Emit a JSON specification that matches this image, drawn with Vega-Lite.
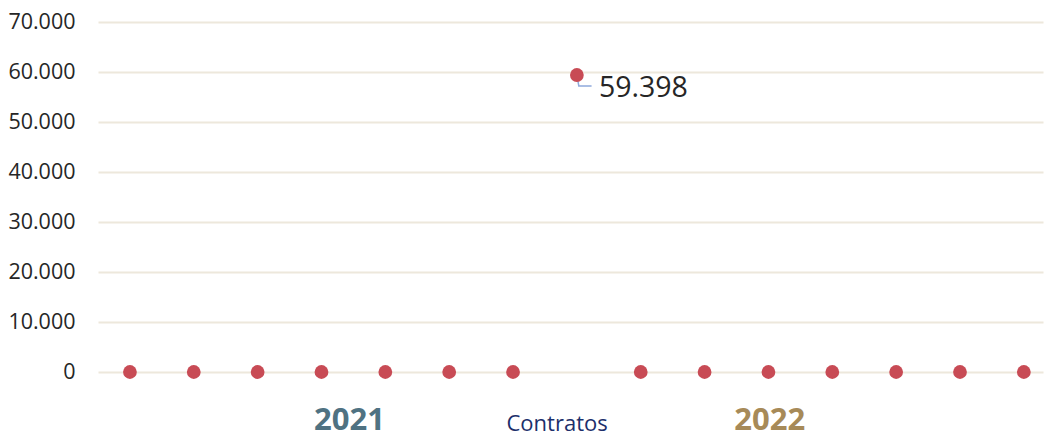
{
  "$schema": "https://vega.github.io/schema/vega-lite/v6.json",
  "autosize": "none",
  "width": 945,
  "height": 350,
  "padding": {"left": 98, "top": 22, "right": 2, "bottom": 67},
  "background": "white",
  "config": {"view": {"stroke": null}, "font": "Open Sans",
    "locale": {"number": {"decimal": ",", "thousands": ".", "grouping": [3], "currency": ["", " €"]}}},
  "datasets": {
    "pts": [
      {"i": 1, "contratos": 0}, {"i": 2, "contratos": 0}, {"i": 3, "contratos": 0},
      {"i": 4, "contratos": 0}, {"i": 5, "contratos": 0}, {"i": 6, "contratos": 0},
      {"i": 7, "contratos": 0}, {"i": 8, "contratos": 59398}, {"i": 9, "contratos": 0},
      {"i": 10, "contratos": 0}, {"i": 11, "contratos": 0}, {"i": 12, "contratos": 0},
      {"i": 13, "contratos": 0}, {"i": 14, "contratos": 0}, {"i": 15, "contratos": 0}
    ],
    "leader": [
      {"i": 8.0, "contratos": 59398, "o": 1},
      {"i": 8.03, "contratos": 57200, "o": 2},
      {"i": 8.23, "contratos": 57200, "o": 3}
    ],
    "labs": [
      {"i": 4.44, "contratos": -11500, "t": "2021", "k": "a"},
      {"i": 7.69, "contratos": -11800, "t": "Contratos", "k": "b"},
      {"i": 11.02, "contratos": -11500, "t": "2022", "k": "c"}
    ]
  },
  "encoding": {
    "x": {"field": "i", "type": "quantitative", "scale": {"domain": [0.5, 15.3], "nice": false, "zero": false}, "axis": null},
    "y": {"field": "contratos", "type": "quantitative", "scale": {"domain": [0, 70000], "nice": false},
      "axis": {"values": [0, 10000, 20000, 30000, 40000, 50000, 60000, 70000], "title": null, "domain": false, "ticks": false,
        "format": ",d", "labelFontSize": 21.5, "labelColor": "#262626", "labelFont": "Open Sans", "labelPadding": 23,
        "gridColor": "#ede8dc", "gridWidth": 2, "gridOpacity": 1}}
  },
  "layer": [
    {"data": {"name": "leader"}, "mark": {"type": "line", "color": "#8ea9db", "strokeWidth": 1.5, "clip": false}, "encoding": {"order": {"field": "o"}}},
    {"data": {"name": "pts"}, "mark": {"type": "circle", "size": 190, "color": "#c84b55", "opacity": 1}},
    {"data": {"name": "pts"}, "transform": [{"filter": "datum.contratos > 0"}],
      "mark": {"type": "text", "align": "left", "baseline": "alphabetic", "dx": 22, "dy": 22, "fontSize": 28.5, "color": "#262626", "font": "Open Sans"},
      "encoding": {"text": {"field": "contratos", "type": "quantitative", "format": ",d"}}},
    {"data": {"name": "labs"}, "transform": [{"filter": "datum.k === 'a'"}],
      "mark": {"type": "text", "align": "center", "baseline": "alphabetic", "clip": false, "font": "Open Sans", "fontSize": 31, "fontWeight": "bold", "color": "#4f7282"},
      "encoding": {"text": {"field": "t"}}},
    {"data": {"name": "labs"}, "transform": [{"filter": "datum.k === 'b'"}],
      "mark": {"type": "text", "align": "center", "baseline": "alphabetic", "clip": false, "font": "Open Sans", "fontSize": 22, "fontWeight": "normal", "color": "#1c2f6b"},
      "encoding": {"text": {"field": "t"}}},
    {"data": {"name": "labs"}, "transform": [{"filter": "datum.k === 'c'"}],
      "mark": {"type": "text", "align": "center", "baseline": "alphabetic", "clip": false, "font": "Open Sans", "fontSize": 31, "fontWeight": "bold", "color": "#a78a58"},
      "encoding": {"text": {"field": "t"}}}
  ]
}
